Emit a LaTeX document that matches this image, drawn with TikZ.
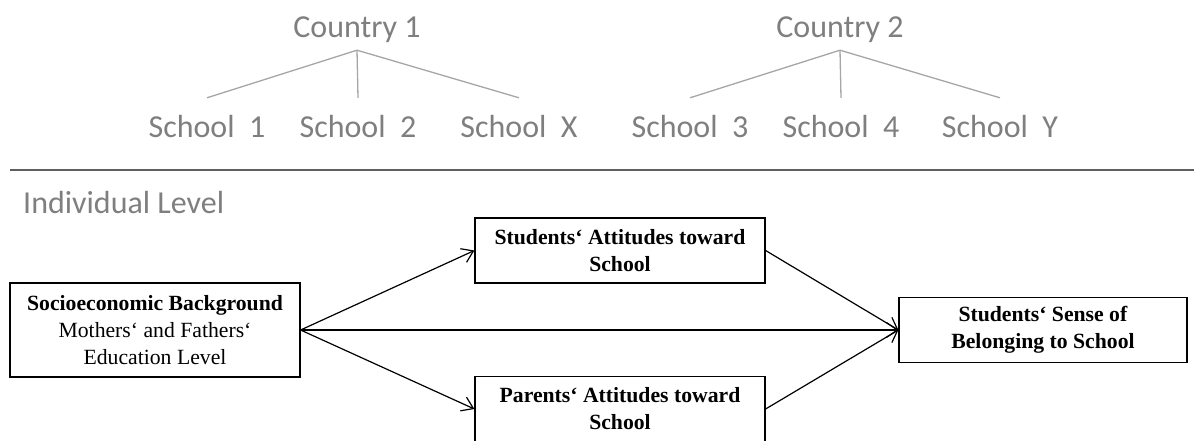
\documentclass[tikz,border=0pt]{standalone}
\usepackage{fontspec}
\setmainfont{Liberation Serif}
\newfontfamily\calibri{Carlito}
\usetikzlibrary{arrows.meta}
\definecolor{levelgray}{HTML}{7F7F7F}
\definecolor{treegray}{HTML}{A6A6A6}
\definecolor{rulegray}{HTML}{5F5F5F}

\begin{document}
\begin{tikzpicture}
    [x=1pt, y=-1pt,
    countrynode/.style={text=levelgray, font=\calibri\fontsize{32}{38}\selectfont, anchor=base, text height=22pt, text depth=6pt, inner xsep=0pt, inner ysep=6pt},
    schoolnode/.style={countrynode, inner ysep=18pt},
    levelnode/.style={text=levelgray, font=\calibri\fontsize{32}{38}\selectfont, anchor=base west, inner sep=0pt},
    boxnode/.style={rectangle, draw=black, line width=1.2pt, align=center, font=\fontsize{21.7}{27}\selectfont, minimum width=290pt, minimum height=65pt, inner sep=0pt},
    treeline/.style={treegray, line width=1.3pt},
    pathline/.style={black, line width=1.2pt, -{Straight Barb[length=11pt, width=15pt, line width=1.2pt]}},]

    \useasboundingbox (0,0) rectangle (1194,441);

    %Levels
    \node[countrynode](C1) at (357,38){Country 1};
    \node[countrynode](C2) at (840,38){Country 2};

    \node[schoolnode](S1) at (207,138){School\ \ 1};
    \node[schoolnode](S2) at (358,138){School\ \ 2};
    \node[schoolnode](SX) at (519,138){School\ \ X};
    \node[schoolnode](S3) at (690,138){School\ \ 3};
    \node[schoolnode](S4) at (841,138){School\ \ 4};
    \node[schoolnode](SY) at (1000,138){School\ \ Y};

    \coordinate (ruleL) at (10,170);
    \coordinate (ruleR) at (1194,170);
    \node[levelnode](ind) at (23,213){Individual Level};

    %Boxes
    \node[boxnode, minimum height=94pt](SES) at (155,330)
        {\textbf{Socioeconomic Background}\\Mothers‘ and Fathers‘\\Education Level};
    \node[boxnode](SA) at (620,250.5){\textbf{Students‘ Attitudes toward}\\\textbf{School}};
    \node[boxnode](PA) at (620,409){\textbf{Parents‘ Attitudes toward}\\\textbf{School}};
    \node[boxnode, minimum width=288pt](SB) at (1043,330){\textbf{Students‘ Sense of}\\\textbf{Belonging to School}};

    %Lines
    \draw[treeline](C1.south)--(S1.north);
    \draw[treeline](C1.south)--(S2.north);
    \draw[treeline](C1.south)--(SX.north);
    \draw[treeline](C2.south)--(S3.north);
    \draw[treeline](C2.south)--(S4.north);
    \draw[treeline](C2.south)--(SY.north);

    \draw[rulegray, line width=2pt](ruleL)--(ruleR);

    \draw[pathline](SES.east)--(SA.west);
    \draw[pathline](SES.east)--(PA.west);
    \draw[pathline](SES.east)--(SB.west);
    \draw[pathline](SA.east)--(SB.west);
    \draw[pathline](PA.east)--(SB.west);
\end{tikzpicture}
\end{document}
